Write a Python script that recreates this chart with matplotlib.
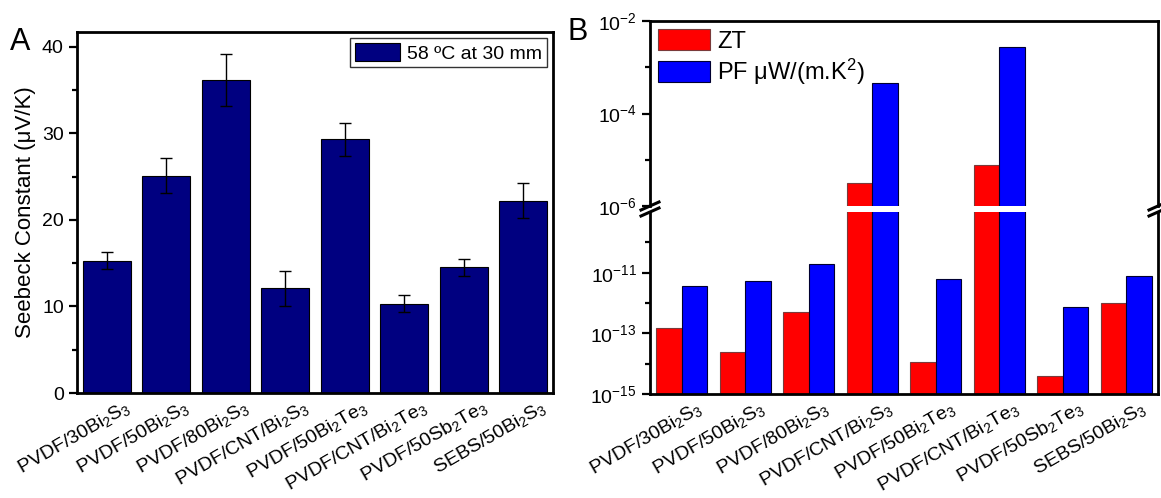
import numpy as np
import matplotlib.pyplot as plt
from matplotlib.ticker import FixedLocator, NullFormatter, FuncFormatter
from matplotlib.transforms import ScaledTranslation

plt.rcParams['font.family'] = ['Liberation Sans', 'DejaVu Sans']
plt.rcParams['mathtext.default'] = 'regular'

samples = [r'PVDF/30Bi$_2$S$_3$', r'PVDF/50Bi$_2$S$_3$', r'PVDF/80Bi$_2$S$_3$',
           r'PVDF/CNT/Bi$_2$S$_3$', r'PVDF/50Bi$_2$Te$_3$', r'PVDF/CNT/Bi$_2$Te$_3$',
           r'PVDF/50Sb$_2$Te$_3$', r'SEBS/50Bi$_2$S$_3$']

# Seebeck constant (uV/K) and its error
seebeck = [15.3, 25.1, 36.2, 12.1, 29.3, 10.3, 14.5, 22.2]
seebeck_err = [1.0, 2.0, 3.0, 2.0, 1.9, 1.0, 1.0, 2.0]

# figure of merit and power factor
zt = [1.5e-13, 2.4e-14, 5.0e-13, 3.1e-6, 1.1e-14, 7.8e-6, 3.8e-15, 1.0e-12]
pf = [3.5e-12, 5.2e-12, 2.0e-11, 4.5e-4, 6.1e-12, 2.8e-3, 7.6e-13, 7.6e-12]

x = np.arange(1, len(samples) + 1)
W, H = 1161, 498


def frac(l, t, r, b):
    return [l / W, 1 - b / H, (r - l) / W, (b - t) / H]


def style(ax, left=True):
    for s in ax.spines.values():
        s.set_linewidth(2)
    ax.tick_params(axis='y', which='major', direction='out', length=6, width=1.6,
                   labelsize=14, left=left, right=False)
    ax.tick_params(axis='y', which='minor', direction='out', length=3.5, width=1.6,
                   left=left, right=False)
    ax.tick_params(axis='x', length=0, labelsize=14, pad=3)


def slanted_labels(ax, shift_px):
    # called after style(), since tick_params resets label transforms
    ax.set_xticks(x)
    ax.set_xticklabels(samples, rotation=30, ha='right', rotation_mode='anchor')
    off = ScaledTranslation(shift_px / 100, 0, fig.dpi_scale_trans)
    for lab in ax.get_xticklabels():
        lab.set_transform(lab.get_transform() + off)


fig = plt.figure(figsize=(W / 100, H / 100), dpi=100)

# ---- A: Seebeck constant ----
axA = fig.add_axes(frac(77, 32, 553, 393))
axA.bar(x, seebeck, width=0.8, color='#000080', edgecolor='black', linewidth=0.8,
        label='58 ºC at 30 mm')
axA.errorbar(x, seebeck, yerr=seebeck_err, fmt='none', ecolor='black', elinewidth=1,
             capsize=4, capthick=1)
axA.set_xlim(0.5, 8.5)
axA.set_ylim(0, 41.7)
axA.set_yticks([0, 10, 20, 30, 40])
axA.yaxis.set_minor_locator(FixedLocator([5, 15, 25, 35]))
axA.set_ylabel('Seebeck Constant (μV/K)', fontsize=16, labelpad=4)
style(axA)
slanted_labels(axA, 17)
legA = axA.legend(loc='upper right', fontsize=14, frameon=True, fancybox=False,
                  handlelength=2.3, handleheight=1.1, borderpad=0.25,
                  borderaxespad=0.3, handletextpad=0.4)
legA.get_frame().set_edgecolor('black')
legA.get_frame().set_linewidth(1)
fig.text(10 / W, 1 - 50 / H, 'A', fontsize=22)

# ---- B: ZT and PF on a broken log axis ----
axT = fig.add_axes(frac(650, 21, 1158, 206))
axB = fig.add_axes(frac(650, 212, 1158, 394))
bw = 0.4
for ax in (axT, axB):
    ax.bar(x - bw / 2, zt, width=bw, bottom=1e-20, color='#ff0000',
           edgecolor='#7a3a3a', linewidth=0.8, label='ZT')
    ax.bar(x + bw / 2, pf, width=bw, bottom=1e-20, color='#0000ff',
           edgecolor='#000030', linewidth=0.8, label='PF μW/(m.K$^2$)')
    ax.set_yscale('log')
    ax.set_xlim(0.5, 8.5)
    style(ax)

axT.set_ylim(1e-6, 1e-2)
axB.set_ylim(1e-15, 1e-9)
axT.spines['bottom'].set_visible(False)
axB.spines['top'].set_visible(False)

powfmt = FuncFormatter(lambda v, p: r'$10^{%d}$' % round(np.log10(v)))
axT.yaxis.set_major_locator(FixedLocator([1e-6, 1e-4, 1e-2]))
axT.yaxis.set_minor_locator(FixedLocator([1e-5, 1e-3]))
axB.yaxis.set_major_locator(FixedLocator([1e-15, 1e-13, 1e-11]))
axB.yaxis.set_minor_locator(FixedLocator([1e-14, 1e-12, 1e-10]))
for ax in (axT, axB):
    ax.yaxis.set_major_formatter(powfmt)
    ax.yaxis.set_minor_formatter(NullFormatter())
axT.set_xticks([])
slanted_labels(axB, 14)

axT.legend(loc='upper left', fontsize=17, frameon=False, handlelength=2.2,
           handleheight=1.0, borderaxespad=0.15, borderpad=0.2,
           handletextpad=0.3, labelspacing=0.15)
fig.text(568 / W, 1 - 40 / H, 'B', fontsize=22)

# break marks on both vertical spines
for px in (650, 1158):
    for py in (206, 212):
        fig.add_artist(plt.Line2D([(px - 9) / W, (px + 9) / W],
                                  [1 - (py + 4) / H, 1 - (py - 4) / H],
                                  color='black', lw=2.2, transform=fig.transFigure))

fig.savefig('out.png', dpi=100)
